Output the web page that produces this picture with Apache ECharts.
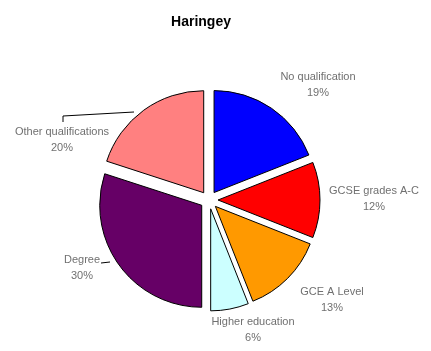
<!DOCTYPE html>
<html><head><meta charset="utf-8">
<script src="https://cdn.jsdelivr.net/npm/echarts@6/dist/echarts.min.js"></script>
<style>html,body{margin:0;padding:0;background:#fff}#c{width:431px;height:351px}</style>
</head><body><div id="c"></div>
<script>
const categories = ['No qualification','GCSE grades A-C','GCE A Level','Higher education','Degree','Other qualifications'];
const values = [19,12,13,6,30,20];
const colors = ['#0000FF','#FF0000','#FF9900','#CCFFFF','#660066','#FF8080'];
const labelPos = [[318,85],[374,199],[332,300],[253,330],[82,268],[62,140]];
const chart = echarts.init(document.getElementById('c'));
const labelGraphics = categories.map((n,i)=>({
  type:'text',x:labelPos[i][0],y:labelPos[i][1],silent:true,
  style:{text:n+'\n'+values[i]+'%',fill:'#707070',font:'11px "Liberation Sans"',lineHeight:16,align:'center',verticalAlign:'middle'}
}));
labelGraphics.push({type:'polyline',silent:true,shape:{points:[[63,122],[63,116],[134,112]]},style:{stroke:'#000',lineWidth:1,fill:null}});
labelGraphics.push({type:'polyline',silent:true,shape:{points:[[101,263],[110,262]]},style:{stroke:'#000',lineWidth:1,fill:null}});
chart.setOption({
  animation:false,
  title:{text:'Haringey',left:196,top:10,textAlign:'center',textStyle:{fontFamily:'Liberation Sans',fontSize:14,fontWeight:'bold',color:'#000'}},
  graphic:labelGraphics,
  series:[{
    type:'pie',center:[209,200],radius:102,startAngle:90,clockwise:true,
    selectedMode:'multiple',selectedOffset:9,
    itemStyle:{borderColor:'#000',borderWidth:1},
    emphasis:{disabled:true},
    label:{show:false},
    labelLine:{show:false},
    data:categories.map((n,i)=>({name:n,value:values[i],selected:true,itemStyle:{color:colors[i]}}))
  }]
});
</script></body></html>
